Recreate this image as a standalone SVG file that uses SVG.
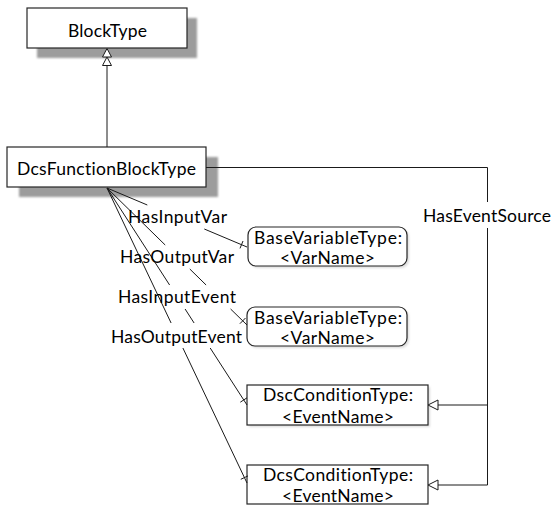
<svg xmlns="http://www.w3.org/2000/svg" width="552" height="505" viewBox="0 0 552 505">
  <defs>
    <filter id="soft" x="-10%" y="-30%" width="130%" height="160%">
      <feGaussianBlur stdDeviation="1.2"/>
    </filter>
    <style>
      .box{fill:#fff;stroke:#262626;stroke-width:1.2}
      .shadow{fill:#9c9c9c;filter:url(#soft)}
      .faint{fill:#dcdcdc;filter:url(#soft)}
      .t{font-family:Lato,"Liberation Sans",sans-serif;font-size:17.5px;fill:#000;text-anchor:middle;font-variant-ligatures:none}
      .ln{fill:none;stroke:#1a1a1a;stroke-width:1}
      .head{fill:#fff;stroke:#1a1a1a;stroke-width:1}
    </style>
  </defs>

  <rect x="0" y="0" width="552" height="505" fill="#fff"/>

  <!-- nodes -->
  <g id="blockType">
    <rect class="shadow" x="37" y="18" width="160" height="40"/>
    <rect class="box" x="27" y="8" width="160" height="40"/>
    <text class="t" x="107.5" y="36.5" textLength="79" lengthAdjust="spacing">BlockType</text>
  </g>

  <g id="dcsFunctionBlockType">
    <rect class="shadow" x="19" y="157" width="199" height="40"/>
    <rect class="box" x="7" y="147" width="199" height="40"/>
    <text class="t" x="106.5" y="175" textLength="179" lengthAdjust="spacing">DcsFunctionBlockType</text>
  </g>

  <g id="baseVariableType1">
    <rect class="faint" x="250" y="229" width="159" height="39" rx="8"/>
    <rect class="box" x="248" y="227" width="159" height="39" rx="8"/>
    <text class="t" x="328" y="243.5" textLength="148" lengthAdjust="spacing">BaseVariableType:</text>
    <text class="t" x="327.5" y="264" textLength="95" lengthAdjust="spacing">&lt;VarName&gt;</text>
  </g>

  <g id="baseVariableType2">
    <rect class="faint" x="249" y="309" width="160" height="39" rx="8"/>
    <rect class="box" x="247" y="307" width="160" height="39" rx="8"/>
    <text class="t" x="328" y="323.5" textLength="148" lengthAdjust="spacing">BaseVariableType:</text>
    <text class="t" x="327.5" y="344" textLength="95" lengthAdjust="spacing">&lt;VarName&gt;</text>
  </g>

  <g id="dscConditionType">
    <rect class="faint" x="249" y="387" width="181" height="40"/>
    <rect class="box" x="247" y="385" width="181" height="40"/>
    <text class="t" x="338" y="400.5" textLength="150" lengthAdjust="spacing">DscConditionType:</text>
    <text class="t" x="338" y="423" textLength="112" lengthAdjust="spacing">&lt;EventName&gt;</text>
  </g>

  <g id="dcsConditionType">
    <rect class="box" x="247" y="465" width="181" height="39"/>
    <text class="t" x="338" y="481" textLength="150" lengthAdjust="spacing">DcsConditionType:</text>
    <text class="t" x="338" y="501.5" textLength="112" lengthAdjust="spacing">&lt;EventName&gt;</text>
  </g>

  <!-- connectors -->
  <g id="connectors">
    <!-- generalization to BlockType -->
    <path class="ln" d="M107 147 V65.5"/>
    <polygon class="head" points="107,48.5 102.5,57 111.5,57"/>
    <polygon class="head" points="107,57 102.5,65.5 111.5,65.5"/>

    <!-- HasEventSource -->
    <path class="ln" d="M206 167.5 H487.5 V202 M487.5 228 V485 H438 M487.5 405 H438"/>
    <polygon class="head" points="428,405 438,400 438,410"/>
    <polygon class="head" points="428,485 438,480 438,490"/>
    <text class="t" x="487" y="222" textLength="128" lengthAdjust="spacing">HasEventSource</text>

    <!-- HasInputVar -->
    <path class="ln" d="M107 188 L147.3 205 M204.3 229 L247 247 M240 248.4 L243 241"/>
    <!-- HasOutputVar -->
    <path class="ln" d="M107 188 L165.2 245 M189.8 269 L206.1 285 M230.6 309 L247 325 M239.9 323.7 L245.5 318"/>
    <!-- HasInputEvent -->
    <path class="ln" d="M107 188 L169.6 285 M185.1 309 L194.1 323 M210.2 348 L247 405 M240.3 402.2 L247 397.8"/>
    <!-- HasOutputEvent -->
    <path class="ln" d="M107 188 L171.1 323 M182.9 348 L247 483 M240.8 479.3 L248 475.9"/>

    <text class="t" x="177.5" y="222.7" textLength="99" lengthAdjust="spacing">HasInputVar</text>
    <text class="t" x="177" y="262.7" textLength="114" lengthAdjust="spacing">HasOutputVar</text>
    <text class="t" x="177" y="303" textLength="118" lengthAdjust="spacing">HasInputEvent</text>
    <text class="t" x="176.5" y="343" textLength="131" lengthAdjust="spacing">HasOutputEvent</text>
  </g>
</svg>
